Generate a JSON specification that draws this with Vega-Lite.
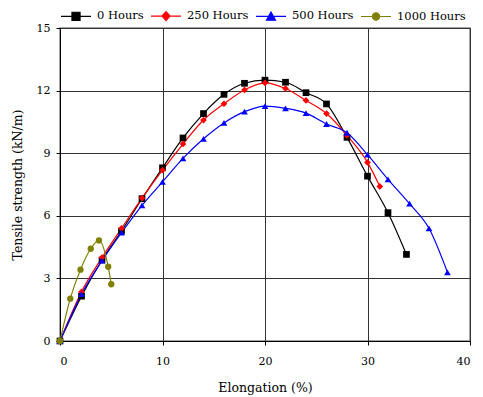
{
  "$schema": "https://vega.github.io/schema/vega-lite/v6.json",
  "width": 410,
  "height": 313,
  "autosize": {"type": "none"},
  "padding": {"left": 60, "top": 28, "right": 13, "bottom": 56},
  "background": "white",
  "config": {
    "font": "DejaVu Serif",
    "view": {"stroke": "#888888", "strokeWidth": 1.5},
    "axis": {
      "labelFont": "DejaVu Serif",
      "titleFont": "DejaVu Serif",
      "labelFontSize": 11,
      "titleFontSize": 12.5,
      "titleFontWeight": "normal",
      "labelColor": "#000",
      "titleColor": "#000",
      "domainColor": "#000",
      "tickColor": "#000",
      "gridColor": "#333",
      "gridWidth": 1,
      "gridOpacity": 1,
      "tickSize": 4
    },
    "legend": {
      "labelFont": "DejaVu Serif",
      "labelFontSize": 11.5,
      "labelColor": "#000"
    }
  },
  "data": {
    "values": [
      {"series": "0 Hours", "x": 0, "y": 0},
      {"series": "0 Hours", "x": 2.1, "y": 2.15},
      {"series": "0 Hours", "x": 4.1, "y": 3.88},
      {"series": "0 Hours", "x": 6.0, "y": 5.27},
      {"series": "0 Hours", "x": 8.0, "y": 6.82},
      {"series": "0 Hours", "x": 10.0, "y": 8.3},
      {"series": "0 Hours", "x": 12.0, "y": 9.73},
      {"series": "0 Hours", "x": 14.0, "y": 10.9},
      {"series": "0 Hours", "x": 16.0, "y": 11.82},
      {"series": "0 Hours", "x": 18.0, "y": 12.35},
      {"series": "0 Hours", "x": 20.0, "y": 12.5},
      {"series": "0 Hours", "x": 22.0, "y": 12.4},
      {"series": "0 Hours", "x": 24.0, "y": 11.9},
      {"series": "0 Hours", "x": 26.0, "y": 11.36},
      {"series": "0 Hours", "x": 28.0, "y": 9.76},
      {"series": "0 Hours", "x": 30.0, "y": 7.9},
      {"series": "0 Hours", "x": 32.0, "y": 6.15},
      {"series": "0 Hours", "x": 33.8, "y": 4.15},
      {"series": "250 Hours", "x": 0, "y": 0},
      {"series": "250 Hours", "x": 2.1, "y": 2.36},
      {"series": "250 Hours", "x": 4.1, "y": 4.0},
      {"series": "250 Hours", "x": 6.0, "y": 5.4},
      {"series": "250 Hours", "x": 8.0, "y": 6.85},
      {"series": "250 Hours", "x": 10.0, "y": 8.19},
      {"series": "250 Hours", "x": 12.0, "y": 9.44},
      {"series": "250 Hours", "x": 14.0, "y": 10.59},
      {"series": "250 Hours", "x": 16.0, "y": 11.37},
      {"series": "250 Hours", "x": 18.0, "y": 12.03},
      {"series": "250 Hours", "x": 20.0, "y": 12.37},
      {"series": "250 Hours", "x": 22.0, "y": 12.1},
      {"series": "250 Hours", "x": 24.0, "y": 11.53},
      {"series": "250 Hours", "x": 26.0, "y": 10.9},
      {"series": "250 Hours", "x": 28.0, "y": 9.85},
      {"series": "250 Hours", "x": 30.0, "y": 8.56},
      {"series": "250 Hours", "x": 31.2, "y": 7.41},
      {"series": "500 Hours", "x": 0, "y": 0},
      {"series": "500 Hours", "x": 2.1, "y": 2.25},
      {"series": "500 Hours", "x": 4.1, "y": 3.85},
      {"series": "500 Hours", "x": 6.0, "y": 5.19},
      {"series": "500 Hours", "x": 8.0, "y": 6.5},
      {"series": "500 Hours", "x": 10.0, "y": 7.63},
      {"series": "500 Hours", "x": 12.0, "y": 8.75},
      {"series": "500 Hours", "x": 14.0, "y": 9.69},
      {"series": "500 Hours", "x": 16.0, "y": 10.45},
      {"series": "500 Hours", "x": 18.0, "y": 10.99},
      {"series": "500 Hours", "x": 20.0, "y": 11.26},
      {"series": "500 Hours", "x": 22.0, "y": 11.15},
      {"series": "500 Hours", "x": 24.0, "y": 10.92},
      {"series": "500 Hours", "x": 26.0, "y": 10.4},
      {"series": "500 Hours", "x": 28.0, "y": 9.98},
      {"series": "500 Hours", "x": 30.0, "y": 8.93},
      {"series": "500 Hours", "x": 32.0, "y": 7.75},
      {"series": "500 Hours", "x": 34.1, "y": 6.58},
      {"series": "500 Hours", "x": 36.0, "y": 5.4},
      {"series": "500 Hours", "x": 37.8, "y": 3.29},
      {"series": "1000 Hours", "x": 0, "y": 0},
      {"series": "1000 Hours", "x": 1.0, "y": 2.03},
      {"series": "1000 Hours", "x": 2.0, "y": 3.42},
      {"series": "1000 Hours", "x": 3.0, "y": 4.42},
      {"series": "1000 Hours", "x": 3.8, "y": 4.82},
      {"series": "1000 Hours", "x": 4.7, "y": 3.56},
      {"series": "1000 Hours", "x": 5.0, "y": 2.72}
    ]
  },
  "encoding": {
    "x": {
      "field": "x", "type": "quantitative",
      "scale": {"domain": [0, 40], "nice": false},
      "axis": {"values": [0, 10, 20, 30, 40], "title": "Elongation (%)", "titlePadding": 15, "labelPadding": 10}
    },
    "y": {
      "field": "y", "type": "quantitative",
      "scale": {"domain": [0, 15], "nice": false},
      "axis": {"values": [0, 3, 6, 9, 12, 15], "title": "Tensile strength (kN/m)", "titlePadding": 12, "labelPadding": 6}
    },
    "color": {
      "field": "series", "type": "nominal",
      "scale": {
        "domain": ["0 Hours", "250 Hours", "500 Hours", "1000 Hours"],
        "range": ["#000000", "#ff0000", "#0000ff", "#808000"]
      },
      "legend": {
        "orient": "top", "direction": "horizontal", "title": null,
        "offset": 5, "symbolSize": 900, "columnPadding": 4, "labelOffset": 5,
        "symbolType": "M-1,0H1",
        "encode": {
          "symbols": {
            "enter": {
              "shape": {"signal": "datum.value === '0 Hours' ? 'M-1,0H1M-0.27,-0.27H0.27V0.27H-0.27Z' : datum.value === '250 Hours' ? 'M-1,0H1M0,-0.3L0.27,0L0,0.3L-0.27,0Z' : datum.value === '500 Hours' ? 'M-1,0H1M0,-0.3L0.3,0.25L-0.3,0.25Z' : 'M-1,0H1M-0.24,0A0.24,0.24 0 1,0 0.24,0A0.24,0.24 0 1,0 -0.24,0Z'"}
            },
            "update": {
              "shape": {"signal": "datum.value === '0 Hours' ? 'M-1,0H1M-0.27,-0.27H0.27V0.27H-0.27Z' : datum.value === '250 Hours' ? 'M-1,0H1M0,-0.3L0.27,0L0,0.3L-0.27,0Z' : datum.value === '500 Hours' ? 'M-1,0H1M0,-0.3L0.3,0.25L-0.3,0.25Z' : 'M-1,0H1M-0.24,0A0.24,0.24 0 1,0 0.24,0A0.24,0.24 0 1,0 -0.24,0Z'"},
              "stroke": {"scale": "color", "field": "value"},
              "fill": {"scale": "color", "field": "value"},
              "strokeWidth": {"value": 1.2},
              "opacity": {"value": 1}
            }
          }
        }
      }
    }
  },
  "layer": [
    {
      "mark": {"type": "line", "interpolate": "monotone", "strokeWidth": 1.2}
    },
    {
      "transform": [{"filter": "datum.series === '0 Hours'"}],
      "mark": {"type": "point", "filled": true, "opacity": 1, "size": 45, "shape": "square"}
    },
    {
      "transform": [{"filter": "datum.series === '250 Hours'"}],
      "mark": {"type": "point", "filled": true, "opacity": 1, "size": 45, "shape": "diamond"}
    },
    {
      "transform": [{"filter": "datum.series === '500 Hours'"}],
      "mark": {"type": "point", "filled": true, "opacity": 1, "size": 45, "shape": "triangle-up"}
    },
    {
      "transform": [{"filter": "datum.series === '1000 Hours'"}],
      "mark": {"type": "point", "filled": true, "opacity": 1, "size": 40, "shape": "circle"}
    }
  ]
}
